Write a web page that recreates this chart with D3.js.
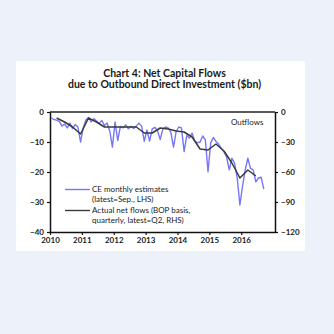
<!DOCTYPE html>
<html>
<head>
<meta charset="utf-8">
<script src="https://cdn.jsdelivr.net/npm/d3@7/dist/d3.min.js"></script>
<style>
  html, body { margin: 0; padding: 0; background: #edf1f9; }
  svg { display: block; }
  text { font-family: Lato, "Open Sans", sans-serif; fill: #1a1a1a; }
</style>
</head>
<body>
<svg id="chart" width="334" height="334"></svg>
<script>
// ---- data ----
const titleLines = ["Chart 4: Net Capital Flows", "due to Outbound Direct Investment ($bn)"];
const years = [2010, 2011, 2012, 2013, 2014, 2015, 2016];
const leftTicks = [0, -10, -20, -30, -40];
const rightTicks = [0, -30, -60, -90, -120];
const startYear = 2010;
// CE monthly estimates, Jan 2010 - Sep 2016 ($bn, LHS)
const ceMonthly = [
  -2.0, -2.5, -2.7, -3.1, -4.7, -4.0, -5.3, -3.7, -5.5, -4.2, -5.0, -10.0,
  -5.3, -2.7, -1.8, -3.3, -2.2, -3.0, -3.8, -2.8, -4.5, -3.7, -6.3, -11.7,
  -3.3, -9.5, -4.8, -5.3, -4.3, -5.6, -4.8, -5.5, -4.7, -3.7, -4.7, -9.8,
  -6.0, -9.7, -5.6, -5.1, -6.3, -9.2, -5.6, -5.0, -5.3, -6.7, -11.7, -6.5,
  -5.0, -5.3, -13.2, -7.8, -8.7, -7.0, -9.7, -10.3, -10.0, -8.0, -9.3, -19.9,
  -10.3, -8.5, -9.8, -10.7, -12.2, -13.3, -15.0, -19.3, -15.4, -17.1, -22.0, -31.0,
  -24.7, -19.3, -15.4, -18.8, -19.3, -23.3, -22.0, -21.7, -25.7
];
// Actual net flows, BOP basis, quarterly Q1 2010 - Q2 2016 ($bn, RHS)
const bopQuarterly = [
  -6, -10, -15, -22,
  -6, -10, -15, -15,
  -15, -15, -15, -21,
  -21, -16, -17, -19,
  -20, -25, -37, -38,
  -32, -39, -51, -66,
  -58, -64
];
const legendLabels = [
  ["CE monthly estimates", "(latest=Sep., LHS)"],
  ["Actual net flows (BOP basis,", "quarterly, latest=Q2, RHS)"]
];
const annotation = "Outflows";
const colors = { ce: "#7676fb", bop: "#3a3a3a" };

// ---- layout ----
const svg = d3.select("#chart");
const L = 50, R = 275, T = 112, B = 232;

svg.append("rect").attr("x", 16).attr("y", 61).attr("width", 289).attr("height", 190).attr("fill", "#ffffff");

const x = d3.scaleLinear().domain([2010, 2017.06]).range([L, R]);
const yL = d3.scaleLinear().domain([-40, 0]).range([B, T]);
const yR = d3.scaleLinear().domain([-120, 0]).range([B, T]);

// title
svg.selectAll("text.title").data(titleLines).join("text")
  .attr("class", "title")
  .attr("x", 164.5).attr("y", (d, i) => 76.5 + i * 11)
  .attr("text-anchor", "middle")
  .attr("font-size", 10.5).attr("font-weight", 700)
  .text(d => d);

// lines
const monthX = i => x(startYear + (i + 0.5) / 12);
const quarterX = k => x(startYear + (3 * k + 2.5) / 12);

svg.append("path")
  .datum(ceMonthly)
  .attr("fill", "none").attr("stroke", colors.ce).attr("stroke-width", 1.4)
  .attr("stroke-linejoin", "round")
  .attr("d", d3.line().x((d, i) => monthX(i)).y(d => yL(d)));

svg.append("path")
  .datum(bopQuarterly)
  .attr("fill", "none").attr("stroke", colors.bop).attr("stroke-width", 1.5)
  .attr("stroke-linejoin", "round")
  .attr("d", d3.line().x((d, i) => quarterX(i)).y(d => yR(d)));

// frame
svg.append("line").attr("x1", L).attr("x2", R).attr("y1", T).attr("y2", T)
  .attr("stroke", "#222").attr("stroke-width", 1.3);

// axes
const styleAxis = g => {
  g.select(".domain").attr("stroke", "#111").attr("stroke-width", 1.5);
  g.selectAll(".tick line").attr("stroke", "#111").attr("stroke-width", 1.2);
  g.selectAll("text").attr("font-size", 8).attr("font-weight", 700)
    .attr("font-family", "Lato, sans-serif").attr("fill", "#1a1a1a");
};

svg.append("g").attr("transform", `translate(${L},0)`)
  .call(d3.axisLeft(yL).tickValues(leftTicks).tickSize(3).tickPadding(3).tickSizeOuter(0))
  .call(styleAxis);

svg.append("g").attr("transform", `translate(${R},0)`)
  .call(d3.axisRight(yR).tickValues(rightTicks).tickSize(3).tickPadding(3).tickSizeOuter(0))
  .call(styleAxis);

svg.append("g").attr("transform", `translate(0,${B})`)
  .call(d3.axisBottom(x).tickValues(years).tickFormat(d3.format("d")).tickSize(3).tickPadding(2).tickSizeOuter(0))
  .call(styleAxis);

// annotation
svg.append("text").attr("x", 231).attr("y", 125)
  .attr("font-size", 8).text(annotation);

// legend
const legendY = [192, 213];
const legG = svg.append("g");
legendLabels.forEach((lines, i) => {
  legG.append("line").attr("x1", 65).attr("x2", 90)
    .attr("y1", legendY[i] - 2.5).attr("y2", legendY[i] - 2.5)
    .attr("stroke", i === 0 ? colors.ce : colors.bop).attr("stroke-width", 1.4);
  lines.forEach((t, j) => {
    legG.append("text").attr("x", 92).attr("y", legendY[i] + j * 10)
      .attr("font-size", 8).text(t);
  });
});
</script>
</body>
</html>
